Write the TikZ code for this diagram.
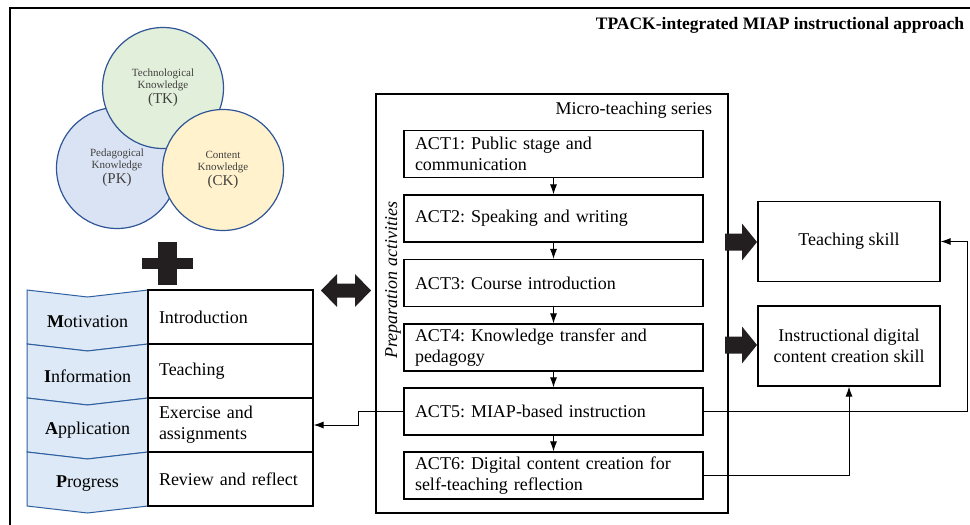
\documentclass[tikz,border=0pt]{standalone}
\usepackage{fontspec}
\setmainfont{Liberation Serif}
\usetikzlibrary{calc,positioning,arrows,arrows.meta}
\definecolor{tkgreen}{RGB}{226,239,218}
\definecolor{pkblue}{RGB}{218,227,243}
\definecolor{ckyellow}{RGB}{255,242,204}
\definecolor{ringblue}{RGB}{47,85,151}
\definecolor{chevfill}{RGB}{221,233,246}
\definecolor{chevline}{RGB}{46,95,160}
\definecolor{inkblack}{RGB}{35,31,32}
\definecolor{softgray}{RGB}{64,64,64}
\frenchspacing

\begin{document}
\begin{tikzpicture}[x=1pt, y=-1pt, line width=1pt, >={Latex[length=10pt,width=7pt]},
  ring/.style={circle, draw=ringblue, line width=1.2pt, minimum size=121, inner sep=0pt, align=center, text=softgray, font=\fontsize{11}{12}\selectfont},
  act/.style={draw, line width=1.2pt, minimum width=299, minimum height=47, text width=277, inner xsep=11, align=left, font=\fontsize{18}{21}\selectfont},
  cell/.style={draw, line width=1.2pt, minimum width=165, minimum height=54, text width=143, inner xsep=11, align=left, font=\fontsize{18}{21}\selectfont},
  skill/.style={draw, line width=1.2pt, minimum width=182, minimum height=80, align=center, font=\fontsize{18}{21}\selectfont},
  chev/.style={fill=chevfill, draw=chevline, line width=1pt},
  big/.style={font=\fontsize{18}{21}\selectfont}]
\useasboundingbox (0,0) rectangle (970,525);

%frame and title
\draw[line width=1.2pt] (10,525) -- (10,8) -- (970,8);
\node[anchor=east, font=\fontsize{17.5}{20}\bfseries] (title) at (968,25) {TPACK-integrated MIAP instructional approach};

%tpack circles
\node[ring, fill=pkblue] (pk) at (117,168) {Pedagogical\\Knowledge\\[1pt]{\fontsize{15}{17}\selectfont (PK)}};
\node[ring, fill=tkgreen] (tk) at (163,88) {Technological\\Knowledge\\[1pt]{\fontsize{15}{17}\selectfont (TK)}};
\node[ring, fill=ckyellow] (ck) at (223,170) {Content\\Knowledge\\[1pt]{\fontsize{15}{17}\selectfont (CK)}};

%plus
\fill[inkblack] (158,242) rectangle (177,285);
\fill[inkblack] (142,258) rectangle (193,269);

%miap table
\foreach \y/\nm/\lbl in {290/mot/{\textbf{M}otivation}, 344/inf/{\textbf{I}nformation}, 398/app/{\textbf{A}pplication}, 452/pro/{\textbf{P}rogress}}{
  \filldraw[chev] (27,\y) -- (87.5,\y+7) -- (148,\y) -- (148,\y+54) -- (87.5,\y+61) -- (27,\y+54) -- cycle;
  \node[big] (\nm) at (87.5,\y+32) {\lbl};
}
\node[cell] (intro) at (230.5,317) {Introduction};
\node[cell] (teach) at (230.5,371) {Teaching};
\node[cell] (exer) at (230.5,425) {Exercise and\\assignments};
\node[cell] (review) at (230.5,479) {Review and reflect};

%double arrow
\fill[inkblack] (321,290.5) -- (337,274) -- (337,283.5) -- (355,283.5) -- (355,274) -- (371,290.5) -- (355,307) -- (355,297.5) -- (337,297.5) -- (337,307) -- cycle;

%micro-teaching series
\node[draw, line width=1.2pt, minimum width=352, minimum height=419] (micro) at (552,303.5) {};
\node[big, anchor=east] (microlbl) at (716,110) {Micro-teaching series};
\node[big, rotate=90, font=\fontsize{18}{21}\itshape] (prep) at (393,280) {Preparation activities};

\node[act] (act1) at (553.5,154) {ACT1: Public stage and\\communication};
\node[act] (act2) at (553.5,218.5) {ACT2: Speaking and writing};
\node[act] (act3) at (553.5,283) {ACT3: Course introduction};
\node[act] (act4) at (553.5,347.5) {ACT4: Knowledge transfer and\\pedagogy};
\node[act] (act5) at (553.5,411.5) {ACT5: MIAP-based instruction};
\node[act] (act6) at (553.5,475.5) {ACT6: Digital content creation for\\self-teaching reflection};
\foreach \a/\b in {1/2, 2/3, 3/4, 4/5, 5/6}
  \draw[->] (act\a) -- (act\b);

%skills
\node[skill] (tskill) at (849,241.5) {Teaching skill};
\node[skill] (dskill) at (849,346) {Instructional digital\\content creation skill};
\foreach \y in {242, 345}
  \fill[inkblack] (725,\y-8.5) -- (742,\y-8.5) -- (742,\y-18.5) -- (757,\y) -- (742,\y+18.5) -- (742,\y+8.5) -- (725,\y+8.5) -- cycle;

%connectors
\draw[->] (act5.west) -- ++(-45,0) |- (exer.east);
\draw[->] (act5.east) -- ++(264,0) |- (tskill.east);
\draw[->] (act6.east) -| (dskill.south);
\end{tikzpicture}
\end{document}
